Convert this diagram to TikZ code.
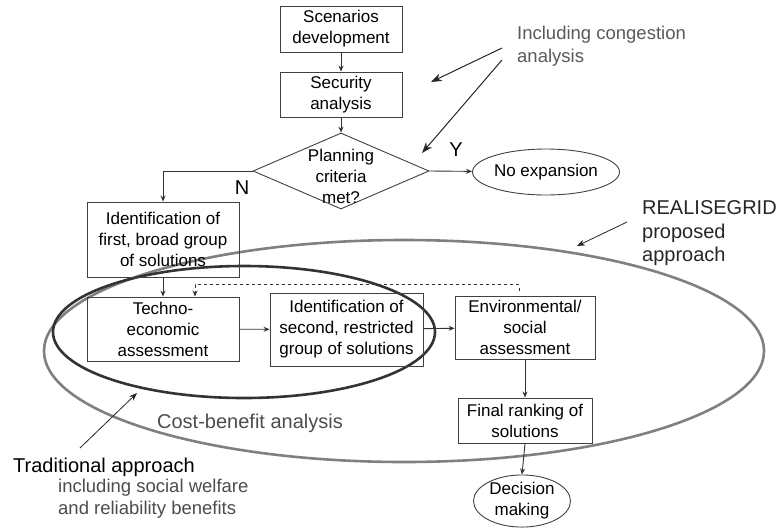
\documentclass[tikz,border=0pt]{standalone}
\usepackage{fontspec}
\setmainfont{Liberation Sans}
\usetikzlibrary{shapes.geometric,arrows.meta}
\begin{document}
\begin{tikzpicture}[x=1pt,y=-1pt,
  box/.style={draw=black!75,line width=0.9pt,inner sep=0pt,align=center,font=\fontsize{17}{21}\selectfont},
  oval/.style={ellipse,draw=black!75,line width=0.9pt,inner sep=0pt,align=center,font=\fontsize{17}{21}\selectfont},
  flow/.style={line width=0.9pt,draw=black!80,-{Stealth[length=6pt,width=5pt]}},
  note/.style={line width=1pt,draw=black!85,-{Stealth[length=11pt,width=8pt]}},
  lbl/.style={inner sep=0pt,align=left,anchor=west}
]
\useasboundingbox (0,0) rectangle (778,528);
% ellipses
\draw[line width=2.6pt,draw=black!50] (404,351) ellipse [x radius=360,y radius=111];
\draw[line width=2.6pt,draw=black!80] (244,332) ellipse [x radius=191,y radius=66];
% nodes
\node[box,minimum width=122pt,minimum height=46pt] (scen) at (341,29) {Scenarios\\development};
\node[box,minimum width=122pt,minimum height=45pt] (sec) at (341,94.5) {Security\\analysis};
\node[diamond,draw=black!75,line width=0.9pt,inner sep=0pt,minimum width=176pt,minimum height=76pt] (dia) at (341,171) {};
\node[inner sep=0pt,align=center,font=\fontsize{17}{21}\selectfont] (diat) at (341,176) {Planning\\criteria\\met?};
\node[oval,minimum width=133pt,minimum height=46pt] (noexp) at (546,172) {No expansion};
\node[box,minimum width=152pt,minimum height=75pt] (first) at (163,239.5) {Identification of\\first, broad group\\of solutions};
\node[box,minimum width=152pt,minimum height=64pt] (techno) at (163,329) {Techno-\\economic\\assessment};
\node[box,minimum width=153pt,minimum height=73pt] (second) at (346.5,329.5) {Identification of\\second, restricted\\group of solutions};
\node[box,minimum width=140pt,minimum height=63pt] (env) at (525,327.5) {Environmental/\\social\\assessment};
\node[box,minimum width=134pt,minimum height=45pt] (final) at (525,420.5) {Final ranking of\\solutions};
\node[oval,minimum width=97pt,minimum height=52pt] (dec) at (522,501) {Decision\\making};
% flow connectors
\draw[flow] (scen) -- (sec);
\draw[flow] (sec) -- (dia.north);
\draw[flow] (dia.east) -- (noexp);
\draw[flow] (dia.west) -| (first.north);
\draw[flow] (first) -- (techno);
\draw[flow] (techno) -- (second);
\draw[flow] (second) -- (env);
\draw[flow] (env.south) -- (final.north);
\draw[flow] (final.south) -- (dec.north);
\coordinate (dstart) at ([xshift=-6pt,yshift=5pt]env.north);
\draw[flow,dashed,line width=0.8pt] (dstart) -- ++(0,-6) -| ([xshift=32pt]techno.north);
% labels
\node[inner sep=0pt,font=\fontsize{20}{24}\selectfont] (ylab) at (456,150) {Y};
\node[inner sep=0pt,font=\fontsize{20}{24}\selectfont] (nlab) at (242,188) {N};
\node[lbl,text=black!65,font=\fontsize{18.5}{23}\selectfont] (cong) at (517,46.5) {Including congestion\\analysis};
\node[lbl,text=black!85,font=\fontsize{20}{23.5}\selectfont] (real) at (642,233.5) {REALISEGRID\\proposed\\approach};
\node[inner sep=0pt,text=black!70,font=\fontsize{20}{24}\selectfont] (cba) at (250,423) {Cost-benefit analysis};
\node[lbl,text=black,font=\fontsize{20}{24}\selectfont] (trad) at (13,467) {Traditional approach};
\node[lbl,text=black!70,font=\fontsize{18.5}{22}\selectfont] (incl) at (58,499) {including social welfare\\and reliability benefits};
% annotation arrows
\coordinate (c1s) at (502,48); \coordinate (c1e) at (431,82);
\coordinate (c2s) at (502,60); \coordinate (c2e) at (422,153);
\coordinate (r1s) at (627,222); \coordinate (r1e) at (577,246);
\coordinate (t1s) at (80,448); \coordinate (t1e) at (137,393);
\draw[note] (c1s) -- (c1e);
\draw[note] (c2s) -- (c2e);
\draw[note,line width=0.8pt,-{Stealth[length=8pt,width=6pt]}] (r1s) -- (r1e);
\draw[note,line width=0.8pt,-{Stealth[length=8pt,width=6pt]}] (t1s) -- (t1e);
\end{tikzpicture}
\end{document}
